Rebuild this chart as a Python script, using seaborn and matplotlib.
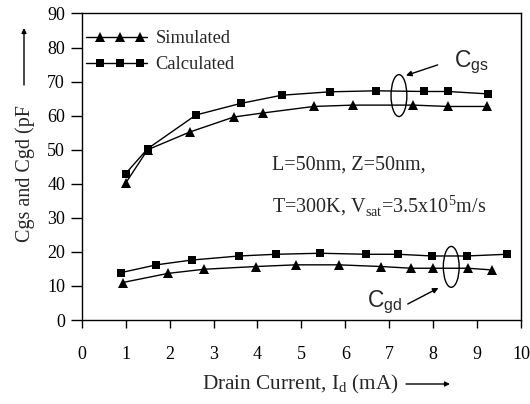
import matplotlib
matplotlib.use("Agg")
import matplotlib.pyplot as plt
import seaborn as sns
import numpy as np
from matplotlib.patches import Ellipse
from matplotlib.legend_handler import HandlerLine2DCompound

# ---- data ----
cgs_sim_x = [1.0, 1.5, 2.46, 3.46, 4.13, 5.28, 6.17, 7.55, 8.33, 9.23]
cgs_sim_y = [40.2, 50.0, 55.2, 59.6, 60.8, 62.7, 63.1, 63.1, 62.7, 62.7]
cgs_cal_x = [1.0, 1.5, 2.6, 3.62, 4.55, 5.64, 6.7, 7.79, 8.33, 9.24]
cgs_cal_y = [43.0, 50.3, 60.2, 63.6, 66.0, 67.0, 67.3, 67.1, 67.1, 66.4]
cgd_sim_x = [0.93, 1.97, 2.78, 3.96, 4.87, 5.85, 6.82, 7.5, 7.99, 8.79, 9.34]
cgd_sim_y = [11.0, 13.7, 14.9, 15.7, 16.2, 16.2, 15.7, 15.2, 15.2, 15.2, 14.7]
cgd_cal_x = [0.89, 1.70, 2.5, 3.58, 4.42, 5.43, 6.48, 7.2, 7.98, 8.76, 9.67]
cgd_cal_y = [13.9, 16.2, 17.6, 18.8, 19.3, 19.6, 19.3, 19.3, 18.8, 18.8, 19.3]

x_ticks = list(range(0, 11))
y_ticks = list(range(0, 100, 10))
legend_labels = ["Simulated", "Calculated"]

sns.set_style("ticks")
plt.rcParams["font.family"] = ["Liberation Serif", "DejaVu Serif"]
plt.rcParams["mathtext.fontset"] = "custom"
plt.rcParams["mathtext.rm"] = "Liberation Serif"
plt.rcParams["mathtext.sf"] = "Liberation Sans"

fig = plt.figure(figsize=(5.30, 4.04), dpi=100)
ax = fig.add_axes([0.1542, 0.2079, 0.829, 0.7587])

lw = 1.0
sns.lineplot(x=cgs_sim_x, y=cgs_sim_y, ax=ax, color="black", marker="^",
             markersize=7.5, markeredgewidth=0, linewidth=lw, sort=False,
             label=legend_labels[0])
sns.lineplot(x=cgs_cal_x, y=cgs_cal_y, ax=ax, color="black", marker="s",
             markersize=6, markeredgewidth=0, linewidth=lw, sort=False,
             label=legend_labels[1])
sns.lineplot(x=cgd_sim_x, y=cgd_sim_y, ax=ax, color="black", marker="^",
             markersize=7.5, markeredgewidth=0, linewidth=lw, sort=False)
sns.lineplot(x=cgd_cal_x, y=cgd_cal_y, ax=ax, color="black", marker="s",
             markersize=6, markeredgewidth=0, linewidth=lw, sort=False)

ax.set_xlim(0, 10)
ax.set_ylim(0, 90)
ax.set_xticks(x_ticks)
ax.set_yticks(y_ticks)
ax.set_xlabel("")
ax.set_ylabel("")
ax.tick_params(axis="both", labelsize=13, direction="out", width=1,
               colors="black")
ax.tick_params(axis="x", length=6, pad=13)
ax.tick_params(axis="y", length=8, pad=4)
for s in ax.spines.values():
    s.set_visible(True)
    s.set_linewidth(1)
    s.set_color("black")


class ThreeMarkerHandler(HandlerLine2DCompound):
    def get_xdata(self, legend, xdescent, ydescent, width, height, fontsize):
        x0 = -xdescent
        line_x = np.array([x0, x0 + 0.5 * width, x0 + width])
        mark_x = np.array([x0 + 0.23 * width, x0 + 0.56 * width,
                           x0 + 0.89 * width])
        return line_x, mark_x


handles, labels = ax.get_legend_handles_labels()
leg = ax.legend(handles, labels, loc="upper left", numpoints=3, frameon=False,
                fontsize=13.3, handlelength=3.3, handletextpad=0.45,
                borderaxespad=0, borderpad=0, labelspacing=0.48,
                bbox_to_anchor=(0.01, 0.945),
                handler_map={h: ThreeMarkerHandler() for h in handles})

# annotations
ax.text(4.32, 45.5, "L=50nm, Z=50nm,", fontsize=14.5, va="center", ha="left")
ax.text(4.32, 33.6, r"T=300K, V$_{\rm sat}$=3.5x10$^{5}$m/s", fontsize=14.5,
        va="center", ha="left")

ax.add_patch(Ellipse((7.22, 65.9), 0.36, 12.3, fill=False, lw=1, color="black"))
ax.add_patch(Ellipse((8.41, 15.6), 0.36, 12.0, fill=False, lw=1, color="black"))
ax.annotate("", xy=(7.38, 71.8), xytext=(8.1, 74.9),
            arrowprops=dict(arrowstyle="-|>", color="black", lw=1,
                            mutation_scale=8, shrinkA=0, shrinkB=0))
ax.annotate("", xy=(8.12, 9.4), xytext=(7.42, 4.7),
            arrowprops=dict(arrowstyle="-|>", color="black", lw=1,
                            mutation_scale=8, shrinkA=0, shrinkB=0))
ax.text(8.48, 75.8, r"C$_{\mathsf{gs}}$", fontsize=16.5,
        family="Liberation Sans", va="center", ha="left")
ax.text(6.5, 5.3, r"C$_{\mathsf{gd}}$", fontsize=16.5,
        family="Liberation Sans", va="center", ha="left")

# axis labels with arrows
fig.text(300 / 530, 1 - 384 / 404, r"Drain Current, I$_{\rm d}$ (mA)",
         fontsize=15.3, ha="center", va="center")
ax.annotate("", xy=(450 / 530, 1 - 384 / 404), xytext=(406 / 530, 1 - 384 / 404),
            xycoords="figure fraction", textcoords="figure fraction",
            arrowprops=dict(arrowstyle="-|>", color="black", lw=1,
                            mutation_scale=7, shrinkA=0, shrinkB=0))
fig.text(25 / 530, 1 - 174 / 404, "Cgs and Cgd (pF", fontsize=14.5,
         rotation=90, ha="center", va="center")
ax.annotate("", xy=(24 / 530, 1 - 28 / 404), xytext=(24 / 530, 1 - 85 / 404),
            xycoords="figure fraction", textcoords="figure fraction",
            arrowprops=dict(arrowstyle="-|>", color="black", lw=1,
                            mutation_scale=7, shrinkA=0, shrinkB=0))

fig.savefig("out.png", dpi=100)
